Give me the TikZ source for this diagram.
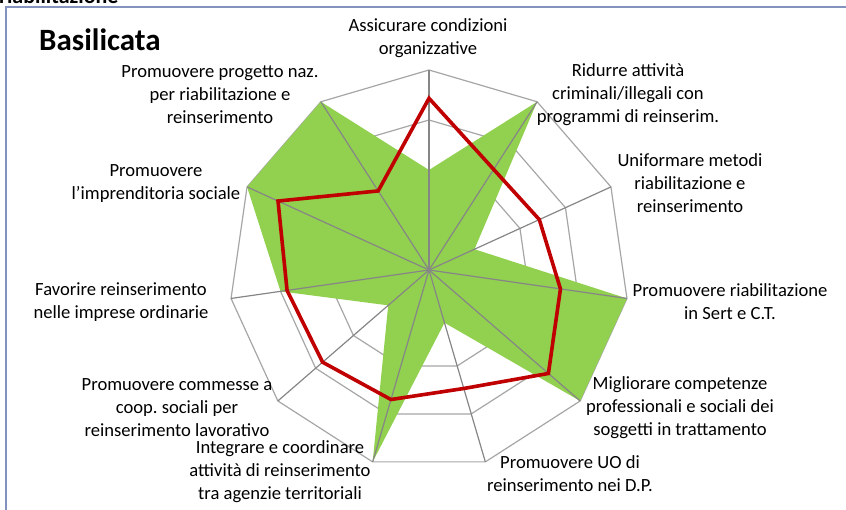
\documentclass[tikz,border=0pt]{standalone}
\usepackage{fontspec}
\setmainfont{Carlito}[Ligatures=ResetAll]
\frenchspacing
\begin{document}
\begin{tikzpicture}[x=1pt,y=-1pt,
  ring/.style={draw={rgb,255:red,166;green,166;blue,166},line width=1.2pt},
  spoke/.style={draw={rgb,255:red,134;green,134;blue,134},line width=1.2pt},
  area/.style={fill={rgb,255:red,146;green,208;blue,80}},
  avg/.style={draw={rgb,255:red,192;green,0;blue,0},line width=3.6pt,line join=miter},
  lbl/.style={align=center,inner sep=0pt,font=\fontsize{18.6}{23}\selectfont},
  frame/.style={draw={rgb,255:red,132;green,146;blue,190},line width=2pt}]
\newcommand{\rp}[2]{({429+(#2)*sin((#1)*32.72727)},{270-(#2)*cos((#1)*32.72727)})}
\useasboundingbox (0,0) rectangle (846,510);
% clipped heading at the very top
\node[anchor=base west,inner sep=0pt,font=\bfseries\fontsize{22}{26}\selectfont] (hd) at (-1,4) {riabilitazione};
% frame
\draw[frame] (6,510) -- (6,7) -- (846,7);
% title
\node[anchor=base west,inner sep=0pt,font=\bfseries\fontsize{31}{36}\selectfont] (title) at (39,51) {Basilicata};
% rings
\foreach \r in {50,100,150,200}{
  \draw[ring] \rp{0}{\r} \foreach \k in {1,...,10}{ -- \rp{\k}{\r} } -- cycle;
}
% green area
\fill[area] \rp{0}{100} -- \rp{1}{200} -- \rp{2}{50} -- \rp{3}{200} -- \rp{4}{200} -- \rp{5}{55} -- \rp{6}{200} -- \rp{7}{54} -- \rp{8}{150} -- \rp{9}{200} -- \rp{10}{200} -- cycle;
% spokes
\coordinate (c) at (429,270);
\foreach \k in {0,...,10}{
  \path \rp{\k}{200} coordinate (o\k);
  \draw[spoke] (c) -- (o\k);
}
% red line
\draw[avg] \rp{0}{171.7} -- \rp{1}{119.6} -- \rp{2}{121.3} -- \rp{3}{132.8} -- \rp{4}{158} -- \rp{5}{123.5} -- \rp{6}{135} -- \rp{7}{140.8} -- \rp{8}{143.4} -- \rp{9}{166} -- \rp{10}{94} -- cycle;
% labels
\node[lbl] (l0) at (428,38.5) {Assicurare condizioni\\organizzative};
\node[lbl] (l1) at (628,95) {Ridurre attività\\criminali/illegali con\\programmi di reinserim.};
\node[lbl] (l2) at (690,183) {Uniformare metodi\\riabilitazione e\\reinserimento};
\node[lbl] (l3) at (730,302) {Promuovere riabilitazione\\in Sert e C.T.};
\node[lbl] (l4) at (680,408) {Migliorare competenze\\professionali e sociali dei\\soggetti in trattamento};
\node[lbl] (l5) at (570,473.5) {Promuovere UO di\\reinserimento nei D.P.};
\node[lbl] (l6) at (280,471.5) {Integrare e coordinare\\attività di reinserimento\\tra agenzie territoriali};
\node[lbl] (l7) at (177,408) {Promuovere commesse a\\coop. sociali per\\reinserimento lavorativo};
\node[lbl] (l8) at (121,302) {Favorire reinserimento\\nelle imprese ordinarie};
\node[lbl] (l9) at (156,183.5) {Promuovere\\l'imprenditoria sociale};
\node[lbl] (l10) at (220,95) {Promuovere progetto naz.\\per riabilitazione e\\reinserimento};
\end{tikzpicture}
\end{document}
